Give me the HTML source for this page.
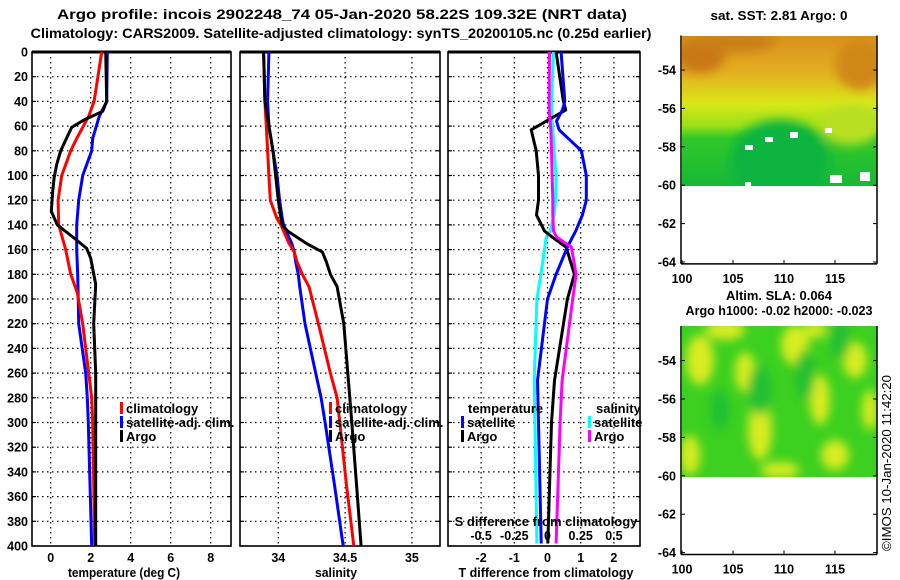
<!DOCTYPE html>
<html><head><meta charset="utf-8">
<style>
html,body{margin:0;padding:0;background:#fff;}
svg{display:block;font-family:"Liberation Sans",sans-serif;font-weight:bold;}
</style></head>
<body>
<svg id="c" width="900" height="580" viewBox="0 0 900 580" xmlns="http://www.w3.org/2000/svg">
<defs>
<linearGradient id="sstg" x1="0" y1="0" x2="0" y2="1">
<stop offset="0" stop-color="#d9901c"/><stop offset="0.25" stop-color="#e4b020"/>
<stop offset="0.45" stop-color="#d8e818"/><stop offset="0.6" stop-color="#9ae018"/>
<stop offset="0.68" stop-color="#30c828"/><stop offset="1" stop-color="#18b838"/>
</linearGradient>
<filter id="blur"><feGaussianBlur stdDeviation="5"/></filter>
<clipPath id="m1c"><rect x="682" y="36" width="195" height="150"/></clipPath>
<clipPath id="m2c"><rect x="682" y="326" width="195" height="151"/></clipPath>
</defs>
<g id="root"></g>
</svg>
<script>
// ---- data ----
const depthT = [0,40,48,55,61,80,91,102,113,129,140,151,159,167,188,220,260,300,400];
const tempArgo = [2.75,2.8,2.6,1.67,1.05,0.5,0.3,0.17,0.1,0.03,0.33,1.2,1.8,2.0,2.25,2.15,2.25,2.25,2.25];
const depthC = [0,40,52,70,80,100,120,140,160,180,195,220,260,280,300,400];
const tempClim = [2.55,2.17,1.9,1.3,1.0,0.55,0.37,0.4,0.75,1.0,1.33,1.6,1.9,2.05,2.1,2.2];
const tempSat = [2.83,2.8,2.43,2.1,2.05,1.6,1.4,1.3,1.3,1.35,1.37,1.4,1.75,1.83,1.88,2.05];
const depthS = [0,40,60,80,100,120,135,140,145,150,155,162,170,180,190,220,260,280,300,350,400];
const salArgo = [33.89,33.9,33.93,33.96,33.98,34.0,34.02,34.03,34.07,34.14,34.21,34.33,34.36,34.39,34.44,34.49,34.52,34.535,34.55,34.585,34.62];
const salClim = [33.89,33.9,33.91,33.92,33.93,33.94,33.99,34.02,34.04,34.06,34.08,34.12,34.14,34.18,34.23,34.30,34.39,34.44,34.46,34.51,34.565];
const salSat = [33.93,33.92,33.93,33.96,33.99,34.01,34.03,34.04,34.06,34.08,34.10,34.12,34.13,34.15,34.16,34.2,34.28,34.32,34.35,34.42,34.486];
const depthD = [0,40,47,52,56,63,80,100,120,132,145,150,158,180,200,266,300,398];
const dTArgo = [0.26,0.48,0.55,0.22,-0.04,-0.49,-0.34,-0.27,-0.27,-0.33,-0.09,0.15,0.56,0.81,0.6,0.21,0.12,0.01];
const dTSat = [0.41,0.52,0.45,0.35,0.27,0.35,1.02,1.17,1.17,1.05,0.85,0.75,0.6,0.26,0.0,-0.3,-0.27,-0.19];
const dSSat = [0.045,0.03,0.03,0.03,0.035,0.04,0.05,0.065,0.06,0.05,0.02,-0.01,-0.02,-0.05,-0.08,-0.1,-0.095,-0.08];
const dSArgo = [0.015,0.012,0.012,0.015,0.02,0.025,0.03,0.035,0.04,0.04,0.045,0.07,0.18,0.215,0.19,0.11,0.095,0.065];
const depthTicks = [0,20,40,60,80,100,120,140,160,180,200,220,240,260,280,300,320,340,360,380,400];
const tTicks = [0,2,4,6,8];
const sTicks = [34,34.5,35];
const dTicks = [-2,-1,0,1,2];
const dsTicks = [-0.5,-0.25,0,0.25,0.5];
const lonTicks = [100,105,110,115];
const latTicks = [-54,-56,-58,-60,-62,-64];

const NS="http://www.w3.org/2000/svg";
const root=document.getElementById('root');
function el(tag,attrs,parent){const e=document.createElementNS(NS,tag);for(const k in attrs)e.setAttribute(k,attrs[k]);(parent||root).appendChild(e);return e;}
function txt(x,y,s,anchor,size,parent){const t=el('text',{x:x,y:y,'text-anchor':anchor||'middle','font-size':size||13},parent);t.textContent=s;return t;}

const Y0=52,Y1=546;
const yD=d=>Y0+(Y1-Y0)*d/400;
const xT=v=>50.7+20*v;
const xS=v=>278.3+133.6*(v-34);
const xDT=v=>547.5+33.2*v;
const xDS=v=>547.5+132.8*v;

// titles
let t=txt(342,19,'Argo profile: incois 2902248_74 05-Jan-2020 58.22S 109.32E (NRT data)','middle',14);
t.setAttribute('textLength','570');
t.setAttribute('lengthAdjust','spacingAndGlyphs');


t=txt(341,38,'Climatology: CARS2009. Satellite-adjusted climatology: synTS_20200105.nc (0.25d earlier)','middle',14);
t.setAttribute('textLength','621');
t.setAttribute('lengthAdjust','spacingAndGlyphs');



const panels=[
 {x0:32,x1:231,name:'temperature-panel',grid:tTicks.map(xT),lab:tTicks.map(v=>[xT(v),String(v)]),title:'temperature (deg C)',tx:124,tl:112},
 {x0:240,x1:440,name:'salinity-panel',grid:sTicks.map(xS),lab:sTicks.map(v=>[xS(v),String(v)]),title:'salinity',tx:336,tl:42},
 {x0:448,x1:640,name:'difference-panel',grid:dTicks.map(xDT),lab:dTicks.map(v=>[xDT(v),String(v)]),title:'T difference from climatology',tx:546,tl:175}
];
panels.forEach((p,i)=>{
 const g=el('g',{});
 
 
 const gg=el('g',{stroke:'#000','stroke-width':1.2,'stroke-dasharray':'1.5 3.5'},g);
 
 
 p.grid.forEach(x=>el('line',{x1:x,x2:x,y1:Y0,y2:Y1},gg));
 depthTicks.forEach(d=>{if(d>0&&d<400)el('line',{x1:p.x0,x2:p.x1,y1:yD(d),y2:yD(d)},gg);});
 depthTicks.forEach(d=>{el('line',{x1:p.x0,x2:p.x0+4,y1:yD(d),y2:yD(d),stroke:'#000','stroke-width':1.2},g);el('line',{x1:p.x1-4,x2:p.x1,y1:yD(d),y2:yD(d),stroke:'#000','stroke-width':1.2},g);});
 el('rect',{x:p.x0,y:Y0,width:p.x1-p.x0,height:Y1-Y0,fill:'none',stroke:'#000','stroke-width':1.6},g);
 el('line',{x1:p.x0,x2:p.x1,y1:Y0,y2:Y0,stroke:'#000','stroke-width':3},g);
 p.lab.forEach(([x,s])=>{const l=txt(x,562,s,'middle',12.5,g);});
 const at=txt(p.tx,577,p.title,'middle',12.5,g);
 at.setAttribute('textLength',p.tl);
 at.setAttribute('lengthAdjust','spacingAndGlyphs');
 
 
});
depthTicks.forEach(d=>{const l=txt(28,yD(d)+4.5,String(d),'end',12.5);});

function line(depths,vals,xf,color,name){
 const pts=depths.map((d,i)=>xf(vals[i]).toFixed(1)+','+yD(d).toFixed(1)).join(' ');
 const pl=el('polyline',{points:pts,fill:'none',stroke:color,'stroke-width':3,'stroke-linejoin':'round'});
 
 
}
line(depthC,tempSat,xT,'#0000ff','temp-satellite-line');
line(depthC,tempClim,xT,'#ff0000','temp-climatology-line');
line(depthT,tempArgo,xT,'#000','temp-argo-line');
line(depthS,salSat,xS,'#0000ff','sal-satellite-line');
line(depthS,salClim,xS,'#ff0000','sal-climatology-line');
line(depthS,salArgo,xS,'#000','sal-argo-line');
line(depthD,dSSat,xDS,'#00ffff','sdiff-satellite-line');
line(depthD,dTArgo,xDT,'#000','tdiff-argo-line');
line(depthD,dTSat,xDT,'#0000ff','tdiff-satellite-line');
line(depthD,dSArgo,xDS,'#ff00ff','sdiff-argo-line');

function legend(x,y,items,name){
 const g=el('g',{});
 
 
 items.forEach(([c,s],i)=>{
  const yy=y+i*14;
  if(c){el('rect',{x:x,y:yy-11,width:3,height:12,fill:c},g);}
  const e=txt(x+(c?6:0),yy,s,'start',13,g);
  
  
 });
}
legend(120,413,[['#ff0000','climatology'],['#0000ff','satellite-adj. clim.'],['#000','Argo']],'temperature-legend');
legend(329,413,[['#ff0000','climatology'],['#0000ff','satellite-adj. clim.'],['#000','Argo']],'salinity-legend');
legend(468,413,[[null,'temperature']],'tdiff-legend-title');
legend(461,427,[['#0000ff','satellite'],['#000','Argo']],'tdiff-legend');
legend(596,413,[[null,'salinity']],'sdiff-legend-title');
legend(588,427,[['#00ffff','satellite'],['#ff00ff','Argo']],'sdiff-legend');
t=txt(546,526,'S difference from climatology','middle',13);


dsTicks.forEach(v=>{const l=txt(xDS(v),540,String(v),'middle',12.5);});

// maps
const xLon=v=>682+10.2*(v-100);
function mapFrame(yLat0,name,titleLines,fillFn){
 const yL=v=>yLat0+19.2*(-54-v);
 const g=el('g',{});
 
 
 fillFn(g,yL);
 el('line',{x1:681,x2:681,y1:yL(-52.2),y2:yL(-64.1),stroke:'#000','stroke-width':1.5},g);
 el('line',{x1:877,x2:877,y1:yL(-52.2),y2:yL(-64.1),stroke:'#000','stroke-width':1.5},g);
 el('line',{x1:681,x2:877,y1:yL(-64.1),y2:yL(-64.1),stroke:'#000','stroke-width':1.5},g);
 latTicks.forEach(v=>{el('line',{x1:681,x2:685,y1:yL(v),y2:yL(v),stroke:'#000'},g);el('line',{x1:873,x2:877,y1:yL(v),y2:yL(v),stroke:'#000'},g);
  const l=txt(676,yL(v)+4.5,String(v),'end',12.5,g);});
 lonTicks.forEach(v=>{el('line',{x1:xLon(v),x2:xLon(v),y1:yL(-64.1)-4,y2:yL(-64.1),stroke:'#000'},g);
  const l=txt(xLon(v),yL(-64.1)+19,String(v),'middle',12.5,g);});
 titleLines.forEach(([s,y,w])=>{const l=txt(779,y,s,'middle',12.5,g);l.setAttribute('textLength',w);l.setAttribute('lengthAdjust','spacingAndGlyphs');});
}
mapFrame(70,'sst-map',[['sat. SST: 2.81 Argo: 0',20,137]],(g,yL)=>{
 el('rect',{x:682,y:36,width:195,height:150,fill:'url(#sstg)'},g);
 const b=el('g',{'clip-path':'url(#m1c)',filter:'url(#blur)'},g);
 el('ellipse',{cx:700,cy:55,rx:25,ry:18,fill:'#c87818'},b);
 el('ellipse',{cx:735,cy:42,rx:40,ry:10,fill:'#c88018'},b);
 el('ellipse',{cx:860,cy:65,rx:25,ry:25,fill:'#d08818'},b);
 el('ellipse',{cx:780,cy:160,rx:50,ry:40,fill:'#10b440'},b);
 el('ellipse',{cx:850,cy:125,rx:30,ry:20,fill:'#b8e020'},b);
 [[745,145,8,5],[765,137,8,5],[790,132,8,6],[825,128,7,5],[830,175,12,8],[860,172,10,9],[745,182,6,4]].forEach(([x,y,w,h])=>el('rect',{x:x,y:y,width:w,height:h,fill:'#fff'},g));
});
mapFrame(399-38.4,'sla-map',[['Altim. SLA: 0.064',300,106],['Argo h1000: -0.02 h2000: -0.023',315,187]],(g,yL)=>{
 el('rect',{x:682,y:326,width:195,height:151,fill:'#3cd020'},g);
 const b=el('g',{'clip-path':'url(#m2c)',filter:'url(#blur)'},g);
 [[700,360,14,25],[725,330,20,10],[745,372,10,20],[760,430,12,30],[795,345,14,20],[820,400,10,25],[835,455,14,15],[855,360,12,18],[870,410,8,20],[690,455,10,20],[780,470,20,8],[815,330,12,8]].forEach(([x,y,rx,ry])=>el('ellipse',{cx:x,cy:y,rx:rx,ry:ry,fill:'#d8ec20'},b));
 [[760,390,12,25],[805,375,10,25],[840,340,10,20],[720,410,10,20]].forEach(([x,y,rx,ry])=>el('ellipse',{cx:x,cy:y,rx:rx,ry:ry,fill:'#20c030'},b));
});
t=el('text',{x:0,y:0,'font-size':13,'text-anchor':'start',transform:'translate(891,551) rotate(-90)','font-weight':'normal',textLength:176,lengthAdjust:'spacingAndGlyphs'});
t.textContent='©IMOS 10-Jan-2020 11:42:20';


</script>
</body></html>
